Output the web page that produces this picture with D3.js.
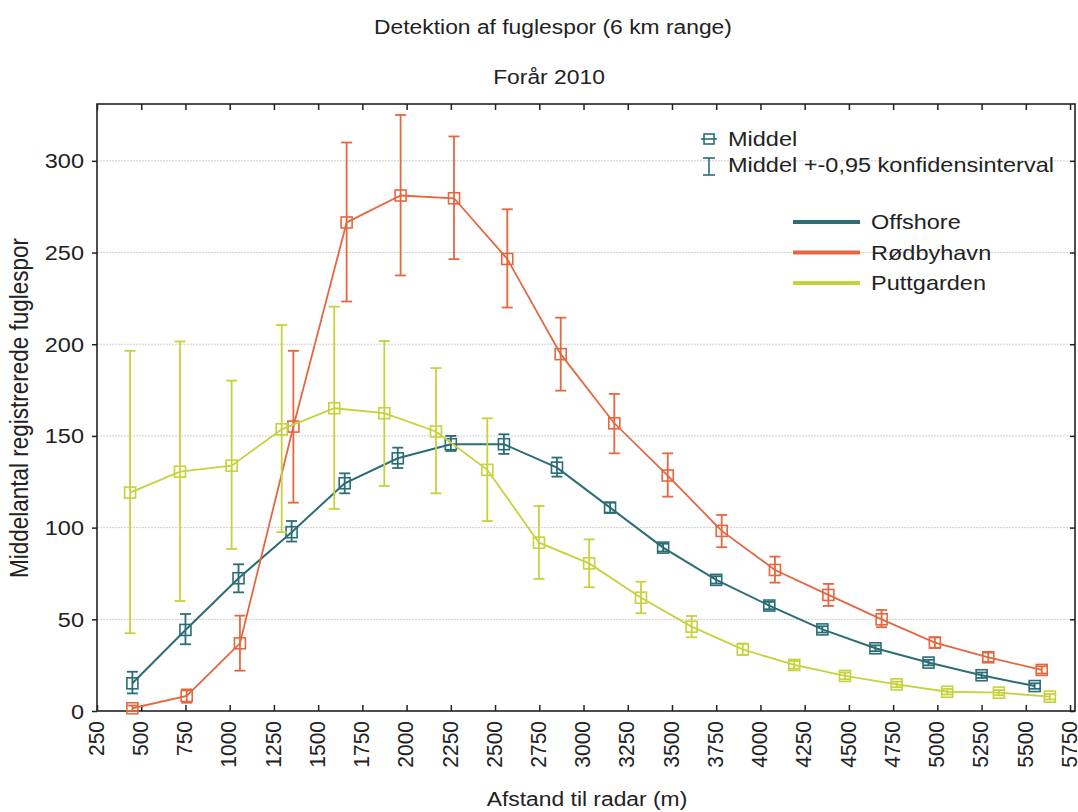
<!DOCTYPE html>
<html>
<head>
<meta charset="utf-8">
<script src="https://cdn.jsdelivr.net/npm/d3@7"></script>
<style>
  html, body { margin: 0; padding: 0; background: #fff; }
  svg { display: block; font-family: "Liberation Sans", Arial, sans-serif; }
</style>
</head>
<body>
<svg id="chart" width="1078" height="812"></svg>
<script>
// ---------- data ----------
const titleText = "Detektion af fuglespor (6 km range)";
const subtitleText = "Forår 2010";
const xTitle = "Afstand til radar (m)";
const yTitle = "Middelantal registrerede fuglespor";

const xTickValues = [250, 500, 750, 1000, 1250, 1500, 1750, 2000, 2250, 2500, 2750, 3000,
                     3250, 3500, 3750, 4000, 4250, 4500, 4750, 5000, 5250, 5500, 5750];
const yTickValues = [0, 50, 100, 150, 200, 250, 300];

const seriesNames = ["Offshore", "Rødbyhavn", "Puttgarden"];
const seriesColors = ["#2b6d75", "#e5673f", "#c6d23c"];

const offshoreX    = [450, 750, 1050, 1350, 1650, 1950, 2250, 2550, 2850, 3150, 3450, 3750, 4050, 4350, 4650, 4950, 5250, 5550];
const offshoreMean = [15.1, 44.2, 72.4, 97.5, 124.2, 137.8, 145.5, 145.5, 132.7, 110.9, 89.1, 71.5, 57.5, 44.5, 34.2, 26.4, 19.5, 13.6];
const offshoreLo   = [9.6, 36.4, 64.7, 92.4, 118.7, 132.5, 141.8, 140.2, 127.8, 108.2, 87.0, 69.5, 55.5, 42.8, 32.6, 24.9, 18.0, 12.1];
const offshoreHi   = [21.4, 52.9, 80.0, 103.6, 129.6, 143.6, 150.0, 150.9, 138.2, 113.6, 91.2, 73.5, 59.5, 46.2, 35.8, 27.9, 21.0, 15.1];

const rodbyX    = [450, 757, 1058, 1360, 1661, 1966, 2268, 2569, 2871, 3174, 3476, 3781, 4082, 4384, 4685, 4986, 5288, 5590];
const rodbyMean = [1.5, 8.2, 36.9, 155.1, 266.4, 281.1, 279.6, 246.5, 194.6, 156.9, 128.4, 98.2, 76.9, 63.3, 50.0, 37.3, 29.3, 22.4];
const rodbyLo   = [0.0, 4.5, 22.0, 113.6, 223.3, 237.5, 246.4, 220.0, 174.7, 140.5, 116.9, 89.3, 70.0, 57.3, 45.7, 34.5, 26.8, 20.4];
const rodbyHi   = [3.0, 11.8, 52.0, 196.4, 310.0, 325.0, 313.3, 273.6, 214.5, 172.9, 140.5, 106.9, 84.2, 69.3, 55.1, 40.1, 31.8, 24.4];

const puttX    = [437, 719, 1011, 1294, 1591, 1874, 2166, 2456, 2748, 3032, 3325, 3611, 3900, 4191, 4478, 4770, 5056, 5348, 5636];
const puttMean = [119.1, 130.5, 133.8, 153.6, 165.1, 162.4, 152.4, 131.5, 91.8, 80.5, 61.8, 46.0, 33.6, 25.1, 19.1, 14.5, 10.5, 10.0, 7.8];
const puttLo   = [42.4, 60.0, 88.4, 97.5, 110.2, 122.7, 118.7, 103.6, 72.0, 67.5, 53.3, 40.2, 30.6, 23.1, 17.3, 13.0, 9.0, 8.6, 6.3];
const puttHi   = [196.4, 201.5, 180.2, 210.5, 220.5, 201.8, 187.0, 159.6, 111.8, 93.6, 70.5, 51.8, 36.8, 27.3, 21.0, 16.0, 12.0, 11.4, 9.3];

const legendMarkerLabels = ["Middel", "Middel +-0,95 konfidensinterval"];

// ---------- build ----------
function build(xs, m, lo, hi) {
  return xs.map((x, i) => ({ x: x, m: m[i], lo: lo[i], hi: hi[i] }));
}
const series = [
  { name: seriesNames[0], color: seriesColors[0], data: build(offshoreX, offshoreMean, offshoreLo, offshoreHi), width: 2 },
  { name: seriesNames[1], color: seriesColors[1], data: build(rodbyX, rodbyMean, rodbyLo, rodbyHi), width: 1.8 },
  { name: seriesNames[2], color: seriesColors[2], data: build(puttX, puttMean, puttLo, puttHi), width: 1.8 }
];

const svg = d3.select("#chart");
const L = 97, R = 1075, T = 104, B = 711;
const SX = 1.12; // horizontal glyph stretch of the reference picture

const x = d3.scaleLinear().domain([250, 5778]).range([L, R]);
const y = d3.scaleLinear().domain([0, 331]).range([B, T]);

// grid
svg.append("g").selectAll("line")
  .data(yTickValues.filter(v => v > 0))
  .join("line")
  .attr("x1", L).attr("x2", R)
  .attr("y1", d => y(d)).attr("y2", d => y(d))
  .attr("stroke", "#cfcfcf").attr("stroke-width", 1)
  .attr("stroke-dasharray", "2,1");

// axes
const xAxisB = d3.axisBottom(x).tickValues(xTickValues).tickSize(-6).tickFormat("");
const xAxisT = d3.axisTop(x).tickValues(xTickValues).tickSize(-6).tickFormat("");
const yAxisL = d3.axisLeft(y).tickValues(yTickValues).tickSize(5).tickFormat("");
const yAxisR = d3.axisRight(y).tickValues(yTickValues).tickSize(-5).tickFormat("");

function styleAxis(g) {
  g.select(".domain").remove();
  g.selectAll(".tick line").attr("stroke", "#222").attr("stroke-width", 1.5);
}
svg.append("g").attr("transform", `translate(0,${B})`).call(xAxisB).call(styleAxis);
svg.append("g").attr("transform", `translate(0,${T})`).call(xAxisT).call(styleAxis);
svg.append("g").attr("transform", `translate(${L},0)`).call(yAxisL).call(styleAxis);
svg.append("g").attr("transform", `translate(${R},0)`).call(yAxisR).call(styleAxis);

// frame
svg.append("rect").attr("x", L).attr("y", T).attr("width", R - L).attr("height", B - T)
  .attr("fill", "none").attr("stroke", "#222").attr("stroke-width", 1.6);

// tick labels
svg.append("g").selectAll("text").data(yTickValues).join("text")
  .attr("transform", d => `translate(84,${y(d)}) scale(${SX},1)`)
  .attr("text-anchor", "end").attr("dy", "0.36em")
  .attr("font-size", 21).attr("fill", "#222")
  .text(d => d);

svg.append("g").selectAll("text").data(xTickValues).join("text")
  .attr("transform", d => `translate(${x(d)},721) scale(1.06,1) rotate(-90)`)
  .attr("text-anchor", "end").attr("dy", "0.3em")
  .attr("font-size", 21).attr("fill", "#222")
  .text(d => d);

// titles
svg.append("text").attr("transform", `translate(553,34) scale(${SX},1)`)
  .attr("text-anchor", "middle").attr("font-size", 20.4).attr("fill", "#222").text(titleText);
svg.append("text").attr("transform", `translate(549,84) scale(${SX},1)`)
  .attr("text-anchor", "middle").attr("font-size", 20.4).attr("fill", "#222").text(subtitleText);
svg.append("text").attr("transform", `translate(587,806) scale(${SX},1)`)
  .attr("text-anchor", "middle").attr("font-size", 20.4).attr("fill", "#222").text(xTitle);
svg.append("text").attr("transform", `translate(28,408) scale(${SX},1) rotate(-90)`)
  .attr("text-anchor", "middle").attr("font-size", 22.5).attr("fill", "#222").text(yTitle);

// series
const line = d3.line().x(d => x(d.x)).y(d => y(d.m));
const cap = 5.5, half = 5.5;
series.forEach(s => {
  const g = svg.append("g");
  g.append("path").datum(s.data).attr("d", line)
    .attr("fill", "none").attr("stroke", s.color).attr("stroke-width", s.width);
  const eb = g.append("g").attr("stroke", s.color).attr("stroke-width", 1.8).attr("fill", "none");
  eb.selectAll(".v").data(s.data).join("line").attr("class", "v")
    .attr("x1", d => x(d.x)).attr("x2", d => x(d.x))
    .attr("y1", d => y(d.lo)).attr("y2", d => y(d.hi));
  eb.selectAll(".ct").data(s.data).join("line").attr("class", "ct")
    .attr("x1", d => x(d.x) - cap).attr("x2", d => x(d.x) + cap)
    .attr("y1", d => y(d.hi)).attr("y2", d => y(d.hi));
  eb.selectAll(".cb").data(s.data).join("line").attr("class", "cb")
    .attr("x1", d => x(d.x) - cap).attr("x2", d => x(d.x) + cap)
    .attr("y1", d => y(d.lo)).attr("y2", d => y(d.lo));
  g.selectAll("rect").data(s.data).join("rect")
    .attr("x", d => x(d.x) - half).attr("y", d => y(d.m) - half)
    .attr("width", 2 * half).attr("height", 2 * half)
    .attr("fill", "none").attr("stroke", s.color).attr("stroke-width", 1.6);
});

// legend: marker explanation
const lc = seriesColors[0];
const lg = svg.append("g").attr("stroke", lc).attr("stroke-width", 1.6).attr("fill", "none");
lg.append("rect").attr("x", 704).attr("y", 134).attr("width", 10).attr("height", 10);
lg.append("line").attr("x1", 701).attr("x2", 717).attr("y1", 139).attr("y2", 139);
lg.append("line").attr("x1", 709).attr("x2", 709).attr("y1", 158).attr("y2", 175);
lg.append("line").attr("x1", 703).attr("x2", 715).attr("y1", 158).attr("y2", 158);
lg.append("line").attr("x1", 703).attr("x2", 715).attr("y1", 175).attr("y2", 175);
svg.append("g").selectAll("text").data(legendMarkerLabels).join("text")
  .attr("transform", (d, i) => `translate(728,${146 + i * 26}) scale(${SX},1)`)
  .attr("font-size", 21).attr("fill", "#222").text(d => d);

// legend: series
const sl = svg.append("g").selectAll("g").data(series).join("g")
  .attr("transform", (d, i) => `translate(0,${222 + i * 30.5})`);
sl.append("line").attr("x1", 793).attr("x2", 860).attr("y1", 0).attr("y2", 0)
  .attr("stroke", d => d.color).attr("stroke-width", 4);
sl.append("text").attr("transform", `translate(871,7) scale(${SX},1)`)
  .attr("font-size", 21).attr("fill", "#222").text(d => d.name);
</script>
</body>
</html>
